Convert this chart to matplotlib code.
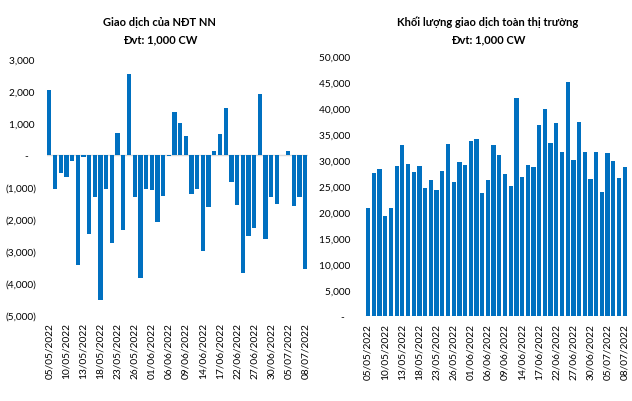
import matplotlib
matplotlib.use("Agg")
import matplotlib.pyplot as plt
from matplotlib.ticker import FuncFormatter

plt.rcParams["font.family"] = ["Lato", "Noto Sans", "DejaVu Sans"]

BAR_COLOR = "#0070C0"
GRID_COLOR = "#D9D9D9"

dates = [
    "05/05/2022", "06/05/2022", "09/05/2022", "10/05/2022", "11/05/2022",
    "12/05/2022", "13/05/2022", "16/05/2022", "17/05/2022", "18/05/2022",
    "19/05/2022", "20/05/2022", "23/05/2022", "24/05/2022", "25/05/2022",
    "26/05/2022", "27/05/2022", "31/05/2022", "01/06/2022", "02/06/2022",
    "03/06/2022", "06/06/2022", "07/06/2022", "08/06/2022", "09/06/2022",
    "10/06/2022", "13/06/2022", "14/06/2022", "15/06/2022", "16/06/2022",
    "17/06/2022", "20/06/2022", "21/06/2022", "22/06/2022", "23/06/2022",
    "24/06/2022", "27/06/2022", "28/06/2022", "29/06/2022", "30/06/2022",
    "01/07/2022", "04/07/2022", "05/07/2022", "06/07/2022", "07/07/2022",
    "08/07/2022",
]

# net foreign trading, 1,000 CW
foreign_net = [
    2020, -1050, -575, -700, -200, -3430, -65, -2460, -1330, -4530,
    -1050, -2740, 690, -2330, 2530, -1330, -3840, -1050, -1110, -2110,
    -1270, -40, 1340, 1000, 590, -1235, -1080, -2990, -1640, 130,
    660, 1470, -860, -1550, -3680, -2520, -2270, 1900, -2620, -1300,
    -1520, 0, 130, -1580, -1330, -3550,
]

# whole market volume, 1,000 CW
market_volume = [
    20760, 27500, 28280, 19280, 20760, 28850, 32900, 29240, 27700, 28850,
    24610, 26160, 24230, 27890, 33100, 25770, 29620, 29050, 33670, 34060,
    23650, 26160, 32900, 30970, 27310, 25060, 41960, 26730, 29050, 28660,
    36760, 39840, 33290, 37140, 31550, 45040, 30010, 37330, 31550, 26350,
    31550, 23840, 31360, 29820, 26540, 28660,
]

left_ticks = [3000, 2000, 1000, 0, -1000, -2000, -3000, -4000, -5000]
right_ticks = [0, 5000, 10000, 15000, 20000, 25000, 30000, 35000, 40000, 45000, 50000]


def accounting(v, pos=None):
    if v == 0:
        return "-   "
    if v < 0:
        return f"({abs(v):,.0f})"
    return f"{v:,.0f} "


def style_axis(ax, values, ticks, ylim):
    x = range(len(values))
    ax.bar(x, values, width=0.75, color=BAR_COLOR, zorder=3)
    ax.set_xlim(-0.5, len(values) - 0.5)
    ax.set_ylim(*ylim)
    ax.set_yticks(ticks)
    ax.yaxis.set_major_formatter(FuncFormatter(accounting))
    ax.set_xticks(list(x)[::3])
    ax.set_xticklabels(dates[::3], rotation=90)
    for side in ["top", "right", "left", "bottom"]:
        ax.spines[side].set_visible(False)
    ax.tick_params(axis="both", length=0, labelsize=7.3, colors="#000000")
    ax.tick_params(axis="x", pad=5)


def main():
    fig = plt.figure(figsize=(6.32, 4.02), dpi=100)

    ax1 = fig.add_axes([0.0736, 0.214, 0.414, 0.637])
    style_axis(ax1, foreign_net, left_ticks, (-5000, 3000))
    ax1.axhline(0, color=GRID_COLOR, linewidth=1, zorder=2)
    ax1.tick_params(axis="y", pad=7)

    ax2 = fig.add_axes([0.578, 0.212, 0.415, 0.645])
    style_axis(ax2, market_volume, right_ticks, (0, 50000))
    ax2.axhline(0, color=GRID_COLOR, linewidth=1, zorder=2)
    ax2.tick_params(axis="y", pad=9)

    fig.text(0.253, 0.945, "Giao dịch của NĐT NN", ha="center", va="center",
             fontsize=8, fontweight="bold")
    fig.text(0.253, 0.902, "Đvt: 1,000 CW", ha="center", va="center",
             fontsize=8, fontweight="bold")
    fig.text(0.772, 0.945, "Khối lượng giao dịch toàn thị trường", ha="center",
             va="center", fontsize=8, fontweight="bold")
    fig.text(0.772, 0.902, "Đvt: 1,000 CW", ha="center", va="center",
             fontsize=8, fontweight="bold")

    fig.savefig("out.png", dpi=100)


if __name__ == "__main__":
    main()
